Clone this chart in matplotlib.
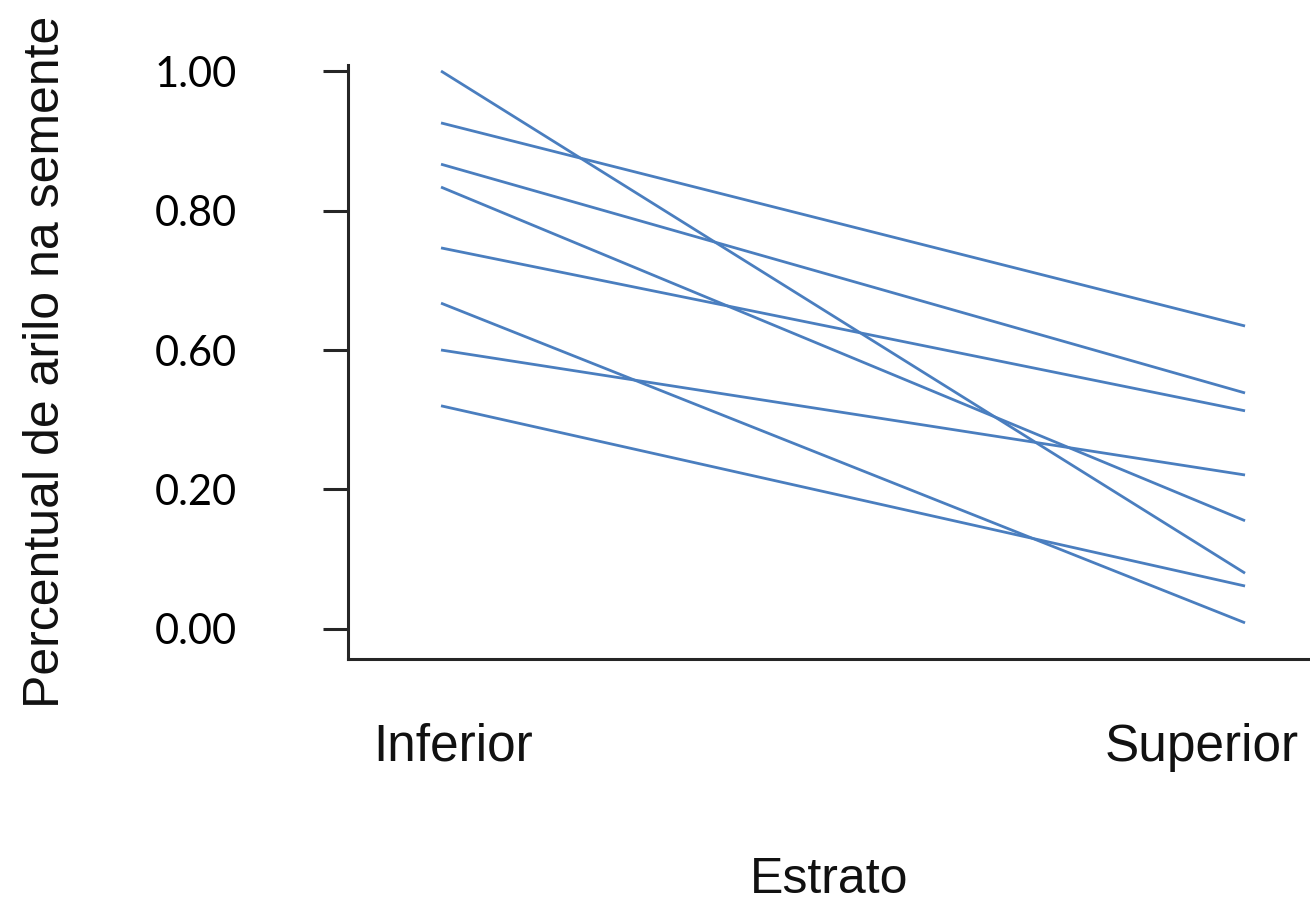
import matplotlib.pyplot as plt
import matplotlib.transforms as mtransforms

# estrato (categorias do eixo x)
estratos = ["Inferior", "Superior"]

# valores lidos em cada linha (posicao no eixo, 0 = marca "0.00", 1 = marca "1.00")
inferior = [1.000, 0.907, 0.833, 0.792, 0.683, 0.584, 0.500, 0.400]
superior = [0.100, 0.543, 0.423, 0.194, 0.391, 0.011, 0.276, 0.077]

# marcas do eixo y e seus rotulos (como no original)
y_ticks = [0.0, 0.25, 0.5, 0.75, 1.0]
y_tick_labels = ["0.00", "0.20", "0.60", "0.80", "1.00"]

fig = plt.figure(figsize=(13.1, 9.08), dpi=100)
W, H = 1310, 908
ax = fig.add_axes([348 / W, 1 - 659 / H, (1310 - 348) / W, (659 - 65) / H])

cor = "#4a7ebf"
for a, b in zip(inferior, superior):
    ax.plot([0, 1], [a, b], color=cor, linewidth=2.0, solid_capstyle="butt")

ax.set_xlim(-0.1157, 1.0808)
ax.set_ylim(-0.0538, 1.0108)

ax.spines["top"].set_visible(False)
ax.spines["right"].set_visible(False)
for s in ["left", "bottom"]:
    ax.spines[s].set_linewidth(2.2)
    ax.spines[s].set_color("#262626")

ax.set_yticks(y_ticks)
ax.set_yticklabels(y_tick_labels, family=["Lato", "DejaVu Sans"], fontsize=30)
ax.tick_params(axis="y", length=18, width=2.2, color="#262626", pad=62, labelcolor="black")

ax.set_xticks([0, 1])
ax.set_xticklabels(estratos, family=["Liberation Sans", "DejaVu Sans"], fontsize=37, color="#111111")
ax.tick_params(axis="x", length=0, pad=46)
desloc = [12, -43]
for lab, dx in zip(ax.get_xticklabels(), desloc):
    lab.set_transform(lab.get_transform() + mtransforms.ScaledTranslation(dx / 100, 0, fig.dpi_scale_trans))

ax.set_xlabel("Estrato", family=["Liberation Sans", "DejaVu Sans"], fontsize=36, labelpad=61, color="#111111")
ax.set_ylabel("Percentual de arilo na semente", family=["Liberation Sans", "DejaVu Sans"], fontsize=36, labelpad=62, color="#111111")

fig.savefig("out.png", dpi=100)
